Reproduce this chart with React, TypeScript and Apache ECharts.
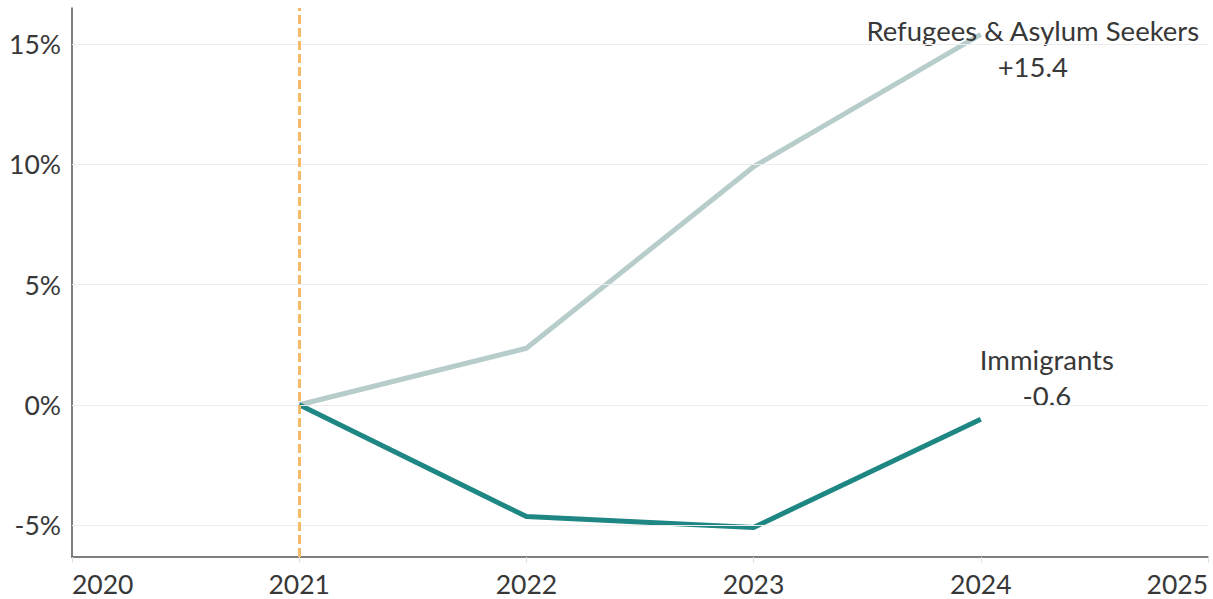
import React, { useEffect, useRef } from "react";
import * as echarts from "echarts";

// Cumulative change since 2021, in percent
const years = [2021, 2022, 2023, 2024];
const refugees = [0, 2.35, 9.9, 15.4];
const immigrants = [0, -4.65, -5.1, -0.6];
const seriesNames = ["Refugees & Asylum Seekers", "Immigrants"];
const yTicks = [15, 10, 5, 0, -5];
const baseYear = 2021;

const FONT = "Lato, 'Noto Sans', sans-serif";
const TEXT = "#383838";
const FS = 26.5;

function fmtChange(v: number): string {
  return (v > 0 ? "+" : "") + v.toFixed(1);
}

function buildData(values: number[], labelOffset: [number, number]) {
  return years.map((y, i) => {
    const item: any = { value: [y, values[i]] };
    if (i === years.length - 1) {
      item.label = {
        show: true,
        position: "inside",
        offset: labelOffset,
        align: "center",
        verticalAlign: "middle",
        fontFamily: FONT,
        fontSize: 27.5,
        lineHeight: 36,
        color: TEXT,
      };
    }
    return item;
  });
}

export default function App() {
  const ref = useRef<HTMLDivElement>(null);

  useEffect(() => {
    document.body.style.margin = "0";
    if (!ref.current) return;
    const chart = echarts.init(ref.current, undefined, { renderer: "svg" });

    chart.setOption({
      animation: false,
      backgroundColor: "#ffffff",
      grid: { left: 72, right: 5, top: 8, bottom: 42, containLabel: false },
      xAxis: {
        type: "value",
        min: 2020,
        max: 2025,
        interval: 1,
        axisLine: { show: true, onZero: false, lineStyle: { color: "#555555", width: 1.5 } },
        axisTick: { show: true, length: 6, lineStyle: { color: "#e2e2e2", width: 1 } },
        splitLine: { show: false },
        axisLabel: {
          fontFamily: FONT,
          fontSize: FS,
          color: TEXT,
          margin: 13,
          alignMinLabel: "left",
          alignMaxLabel: "right",
          formatter: (v: number) => String(v),
        },
      },
      yAxis: {
        type: "value",
        min: -6.33,
        max: 16.5,
        splitNumber: 5,
        axisLine: { show: true, onZero: false, lineStyle: { color: "#555555", width: 1.5 } },
        axisTick: { show: false },
        splitLine: { show: false },
        axisLabel: {
          fontFamily: FONT,
          fontSize: FS,
          color: TEXT,
          margin: 11,
          showMinLabel: false,
          showMaxLabel: false,
          formatter: (v: number) => `${v}%`,
        },
      },
      series: [
        {
          // horizontal gridlines
          type: "line",
          name: "grid",
          data: [],
          z: 1,
          silent: true,
          markLine: {
            silent: true,
            symbol: ["none", "none"],
            label: { show: false },
            lineStyle: { color: "#ececec", width: 1, type: "solid" },
            data: yTicks.map((t) => ({ yAxis: t })),
          },
        },
        {
          // base-year reference line
          type: "line",
          name: "base",
          data: [],
          z: 2,
          silent: true,
          markLine: {
            silent: true,
            symbol: ["none", "none"],
            label: { show: false },
            lineStyle: { color: "#f5bb66", width: 3, type: [9, 4] },
            data: [{ xAxis: baseYear }],
          },
        },
        {
          type: "line",
          name: seriesNames[0],
          data: buildData(refugees, [52, 14]),
          symbol: "circle",
          symbolSize: 0,
          showSymbol: true,
          z: 3,
          lineStyle: { color: "#b6cdcb", width: 5 },
          itemStyle: { color: "#b6cdcb" },
          label: {
            formatter: (p: any) => `${seriesNames[0]}\n${fmtChange(p.value[1])}`,
          },
        },
        {
          type: "line",
          name: seriesNames[1],
          data: buildData(immigrants, [66, -42]),
          symbol: "circle",
          symbolSize: 0,
          showSymbol: true,
          z: 4,
          lineStyle: { color: "#1f8783", width: 5 },
          itemStyle: { color: "#1f8783" },
          label: {
            formatter: (p: any) => `${seriesNames[1]}\n${fmtChange(p.value[1])}`,
          },
        },
      ],
    });

    return () => chart.dispose();
  }, []);

  return <div ref={ref} style={{ width: 1213, height: 599 }} />;
}
